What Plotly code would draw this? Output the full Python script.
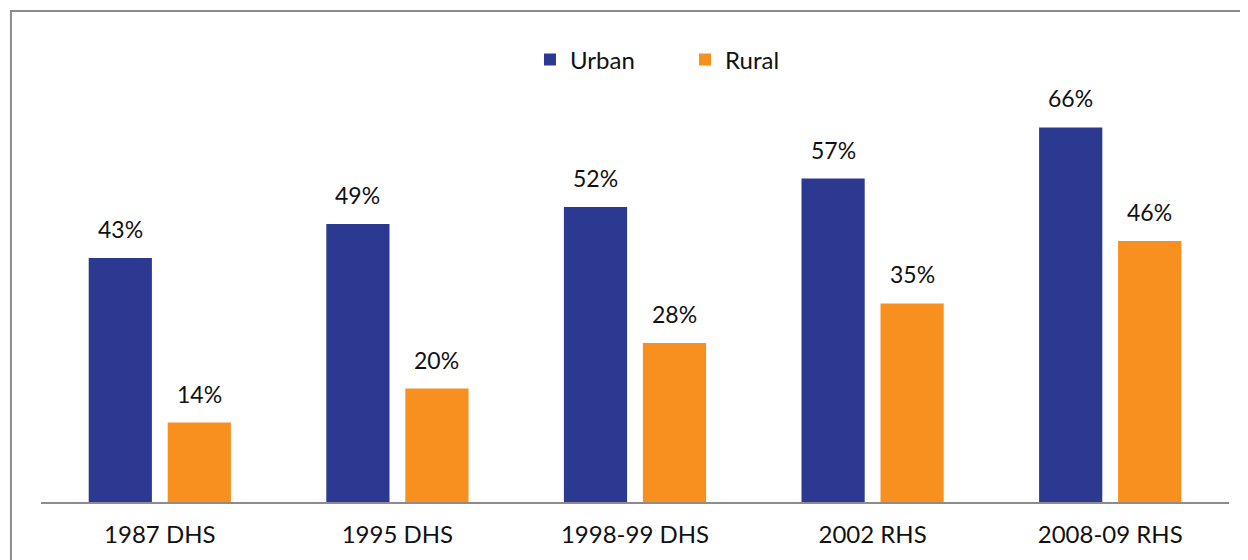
import plotly.graph_objects as go

surveys = ["1987 DHS", "1995 DHS", "1998-99 DHS", "2002 RHS", "2008-09 RHS"]
urban = [43, 49, 52, 57, 66]
rural = [14, 20, 28, 35, 46]

URBAN_COLOR = "#2B3990"
RURAL_COLOR = "#F7901E"
FONT = "Lato, 'Open Sans', sans-serif"

fig = go.Figure()
fig.add_trace(go.Bar(name="Urban", x=surveys, y=urban, marker_color=URBAN_COLOR,
                     marker_line_width=0))
fig.add_trace(go.Bar(name="Rural", x=surveys, y=rural, marker_color=RURAL_COLOR,
                     marker_line_width=0))

# value labels above each bar
for vals, shift in ((urban, -39.5), (rural, 39.5)):
    for cat, v in zip(surveys, vals):
        fig.add_annotation(x=cat, y=v, text=f"{v}%", showarrow=False,
                           xshift=shift, yshift=13, yanchor="bottom",
                           font=dict(size=23, color="#111"))

# outer frame (only top/left visible in the picture)
fig.add_shape(type="rect", xref="paper", yref="paper",
              x0=-0.0253, x1=1.2, y0=-0.3, y1=1.0815,
              line=dict(color="#8c8c8c", width=2), layer="below")

# page body has an 8px margin, so the figure is 1240x552
fig.update_layout(
    width=1240, height=552,
    margin=dict(l=33, r=19, t=40, b=58),
    paper_bgcolor="white", plot_bgcolor="white",
    barmode="group", bargap=0.335, bargroupgap=0.2,
    font=dict(family=FONT, size=23, color="#111"),
    showlegend=True,
    legend=dict(orientation="h", x=0.4116, xanchor="left", y=0.9736, yanchor="middle",
                bgcolor="rgba(0,0,0,0)", font=dict(size=24),
                entrywidth=110, entrywidthmode="pixels", traceorder="normal"),
    xaxis=dict(showline=True, linecolor="#8c8c8c", linewidth=2, ticks="",
               ticklabelstandoff=10, tickfont=dict(size=24), automargin=False),
    yaxis=dict(range=[0, 80], visible=False, showgrid=False, zeroline=False),
)

fig.write_html("out.html")
